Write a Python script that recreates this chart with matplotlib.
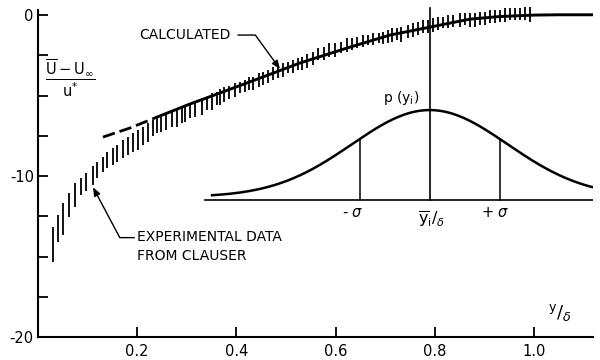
import numpy as np
import matplotlib
matplotlib.use("Agg")
import matplotlib.pyplot as plt

plt.rcParams['font.family'] = ['DejaVu Sans']
plt.rcParams['mathtext.fontset'] = 'dejavusans'

# ---- data ----
# calculated profile (dashed part first, then solid)
calc_dash_x = [0.131, 0.185, 0.240]
calc_dash_y = [-7.58, -7.02, -6.34]
calc_x = [0.240, 0.306, 0.367, 0.448, 0.528, 0.629, 0.710, 0.790, 0.871, 0.931, 1.000, 1.050, 1.117]
calc_y = [-6.34, -5.53, -4.84, -3.91, -2.98, -1.99, -1.24, -0.75, -0.25, -0.09, 0.00, 0.02, 0.02]

# experimental data (Clauser): vertical bars, x, upper, lower
exp_x = [0.030, 0.041, 0.051, 0.063, 0.075, 0.086, 0.097, 0.110, 0.119, 0.131,
         0.140, 0.151, 0.160, 0.171, 0.182, 0.192, 0.202, 0.212, 0.222, 0.231,
         0.239, 0.249, 0.259, 0.270, 0.280, 0.290, 0.296, 0.306, 0.317, 0.330,
         0.340, 0.350, 0.360, 0.368, 0.376, 0.385, 0.397, 0.407, 0.417, 0.425,
         0.433, 0.446, 0.454, 0.464, 0.474, 0.484, 0.494, 0.504, 0.514, 0.524,
         0.533, 0.542, 0.554, 0.565, 0.577, 0.587, 0.599, 0.611, 0.623, 0.633,
         0.643, 0.655, 0.665, 0.675, 0.688, 0.696, 0.705, 0.713, 0.723, 0.733,
         0.747, 0.757, 0.767, 0.777, 0.787, 0.797, 0.807, 0.817, 0.827, 0.837,
         0.851, 0.861, 0.871, 0.881, 0.891, 0.901, 0.911, 0.921, 0.931, 0.942,
         0.952, 0.962, 0.972, 0.982, 0.992]
exp_hi = [-13.17, -12.42, -11.68, -11.06, -10.43, -10.12, -9.81, -9.38, -9.13, -8.82,
          -8.51, -8.26, -8.07, -7.76, -7.58, -7.33, -7.14, -6.96, -6.71, -6.52,
          -6.34, -6.21, -6.09, -6.02, -5.90, -5.78, -5.71, -5.47, -5.47, -5.16,
          -5.09, -4.84, -4.78, -4.60, -4.47, -4.41, -4.22, -4.16, -4.04, -3.85,
          -3.85, -3.60, -3.54, -3.42, -3.23, -3.23, -2.98, -2.92, -2.80, -2.67,
          -2.61, -2.42, -2.30, -2.05, -1.99, -1.74, -1.74, -1.68, -1.43, -1.43,
          -1.37, -1.24, -1.24, -1.12, -1.12, -1.06, -0.93, -0.81, -0.81, -0.75,
          -0.62, -0.50, -0.43, -0.31, -0.31, -0.19, -0.12, -0.12, 0.00, 0.00,
          0.12, 0.12, 0.12, 0.12, 0.19, 0.19, 0.31, 0.31, 0.31, 0.43,
          0.43, 0.43, 0.43, 0.50, 0.50]
exp_lo = [-15.34, -14.10, -13.66, -12.55, -11.93, -11.18, -10.93, -10.56, -10.12, -9.75,
          -9.50, -9.32, -9.13, -8.88, -8.70, -8.51, -8.39, -8.07, -7.89, -7.52,
          -7.33, -7.27, -7.14, -6.96, -6.96, -6.71, -6.65, -6.40, -6.34, -6.21,
          -5.90, -5.90, -5.59, -5.59, -5.40, -5.22, -5.09, -4.84, -4.78, -4.66,
          -4.66, -4.47, -4.35, -4.22, -4.04, -3.91, -3.85, -3.60, -3.60, -3.42,
          -3.42, -3.29, -3.11, -2.80, -2.80, -2.61, -2.61, -2.36, -2.30, -2.17,
          -2.05, -1.99, -1.86, -1.86, -1.74, -1.80, -1.74, -1.68, -1.55, -1.68,
          -1.43, -1.37, -1.24, -1.12, -1.12, -1.06, -0.93, -0.81, -0.81, -0.75,
          -0.75, -0.62, -0.75, -0.75, -0.62, -0.62, -0.50, -0.50, -0.43, -0.43,
          -0.31, -0.31, -0.31, -0.31, -0.43]

# inset: schematic probability density p(y_i)
pdf_mean = 0.790
pdf_sigma_shape = 0.157
pdf_sigma_mark = 0.141
pdf_base = -11.49
pdf_amp = 5.40
pdf_offset = 0.19
pdf_xmin, pdf_xmax = 0.351, 1.117
base_xmin, base_xmax = 0.337, 1.119
center_line_top = 0.43

x_ticks = [0.2, 0.4, 0.6, 0.8, 1.0]
x_ticklabels = ['0.2', '0.4', '0.6', '0.8', '1.0']
y_ticks = [0, -2.5, -5, -7.5, -10, -12.5, -15, -17.5, -20]
y_ticklabels = ['0', '', '', '', '-10', '', '', '', '-20']

# ---- figure ----
fig = plt.figure(figsize=(6, 3.6), dpi=100)
ax = fig.add_axes([0.0633, 0.0639, 0.9257, 0.921])
ax.set_xlim(0, 1.12)
ax.set_ylim(-20, 0.6)

for s in ['top', 'right']:
    ax.spines[s].set_visible(False)
ax.spines['left'].set_bounds(-20, 0.3)
ax.spines['left'].set_linewidth(1.5)
ax.spines['bottom'].set_linewidth(1.5)

ax.set_xticks(x_ticks)
ax.set_xticklabels(x_ticklabels)
ax.set_yticks(y_ticks)
ax.set_yticklabels(y_ticklabels)
ax.tick_params(axis='both', direction='in', length=7, width=1.3, labelsize=10.5)
ax.tick_params(axis='x', pad=5)
ax.tick_params(axis='y', pad=3)

# experimental bars
ax.vlines(exp_x, exp_lo, exp_hi, color='black', lw=1.3)

# calculated curve
ax.plot(calc_dash_x, calc_dash_y, color='black', lw=2.0, dashes=(4.5, 1.8))
ax.plot(calc_x, calc_y, color='black', lw=2.1)

# inset density
gx = np.linspace(pdf_xmin, pdf_xmax, 300)
gy = pdf_base + pdf_offset + pdf_amp * np.exp(-0.5 * ((gx - pdf_mean) / pdf_sigma_shape) ** 2)
ax.plot(gx, gy, color='black', lw=1.8)
ax.plot([base_xmin, base_xmax], [pdf_base, pdf_base], color='black', lw=1.2)
ax.plot([pdf_mean, pdf_mean], [pdf_base, center_line_top], color='black', lw=1.2)
for xm in [pdf_mean - pdf_sigma_mark, pdf_mean + pdf_sigma_mark]:
    ym = pdf_base + pdf_offset + pdf_amp * np.exp(-0.5 * ((xm - pdf_mean) / pdf_sigma_shape) ** 2)
    ax.plot([xm, xm], [pdf_base, ym], color='black', lw=1.1)

ax.text(0.732, -5.16, r'p (y$_\mathrm{i}$)', ha='center', va='center', fontsize=10)
ax.text(pdf_mean - pdf_sigma_mark - 0.014, -12.25, r'- $\sigma$', ha='center', va='center', fontsize=10.5)
ax.text(pdf_mean + pdf_sigma_mark - 0.008, -12.25, r'+ $\sigma$', ha='center', va='center', fontsize=10.5)
ax.text(pdf_mean + 0.004, -12.75, r'$\overline{\mathrm{y}}_{\mathrm{i}}/_{\delta}$', ha='center', va='center', fontsize=11.5)

# axis labels
ax.text(0.066, -3.9, r'$\dfrac{\overline{\mathrm{U}}-\mathrm{U}_{\infty}}{\mathrm{u}^{*}}$',
        ha='center', va='center', fontsize=10.5)
ax.text(1.052, -18.5, r'$^{\mathrm{y}}/_{\delta}$', ha='center', va='center', fontsize=13)

# annotations
ax.annotate('CALCULATED', xy=(0.488, -3.35), xytext=(0.205, -1.24),
            ha='left', va='center', fontsize=10,
            arrowprops=dict(arrowstyle='-|>,head_length=0.5,head_width=0.2', color='black', lw=1.0,
                            shrinkA=3, shrinkB=0,
                            connectionstyle='angle,angleA=0,angleB=126,rad=0'))
ax.annotate('EXPERIMENTAL DATA\nFROM CLAUSER', xy=(0.111, -10.7), xytext=(0.2, -14.4),
            ha='left', va='center', fontsize=10, linespacing=1.45,
            arrowprops=dict(arrowstyle='-|>,head_length=0.5,head_width=0.2', color='black', lw=1.0,
                            shrinkA=0, shrinkB=0,
                            relpos=(0.0, 0.78),
                            connectionstyle='angle,angleA=180,angleB=118,rad=0'))

fig.savefig('out.png', dpi=100)
